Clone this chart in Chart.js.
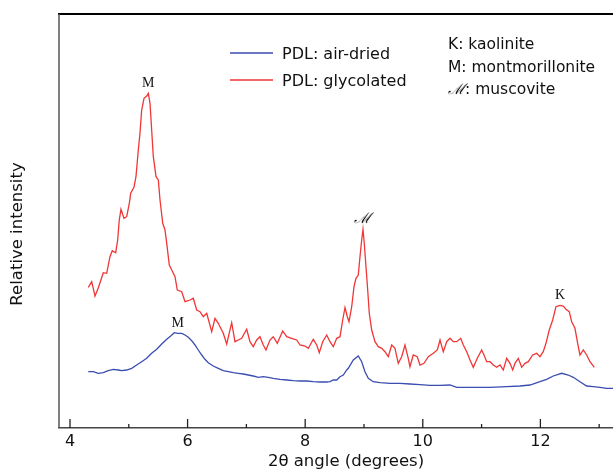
<!DOCTYPE html>
<html>
<head>
<meta charset="utf-8">
<script src="https://cdn.jsdelivr.net/npm/chart.js@4/dist/chart.umd.min.js"></script>
<style>
  html, body { margin: 0; padding: 0; background: #fff; overflow: hidden; }
  #wrap { width: 613px; height: 472px; position: relative; }
</style>
</head>
<body>
<div id="wrap"><canvas id="xrd"></canvas></div>
<script>
// PDL, glycolated
const glycAngle = [4.311, 4.369, 4.425, 4.481, 4.566, 4.624, 4.680, 4.719, 4.777, 4.811, 4.838, 4.867, 4.918, 4.964, 5.009, 5.032, 5.088, 5.122, 5.162, 5.190, 5.219, 5.259, 5.304, 5.332, 5.361, 5.389, 5.417, 5.463, 5.502, 5.531, 5.577, 5.616, 5.645, 5.689, 5.730, 5.786, 5.825, 5.900, 5.956, 6.041, 6.097, 6.155, 6.211, 6.267, 6.325, 6.410, 6.466, 6.522, 6.607, 6.665, 6.750, 6.806, 6.862, 6.920, 7.005, 7.061, 7.117, 7.175, 7.231, 7.287, 7.333, 7.401, 7.457, 7.526, 7.617, 7.685, 7.770, 7.855, 7.912, 7.997, 8.053, 8.138, 8.196, 8.240, 8.298, 8.366, 8.422, 8.478, 8.536, 8.592, 8.638, 8.677, 8.716, 8.745, 8.791, 8.830, 8.864, 8.903, 8.932, 8.961, 8.983, 9.005, 9.034, 9.063, 9.090, 9.131, 9.187, 9.243, 9.301, 9.357, 9.413, 9.471, 9.527, 9.583, 9.641, 9.697, 9.753, 9.782, 9.838, 9.906, 9.952, 10.020, 10.094, 10.179, 10.247, 10.293, 10.349, 10.406, 10.463, 10.519, 10.577, 10.645, 10.689, 10.747, 10.803, 10.859, 10.927, 11.002, 11.041, 11.087, 11.143, 11.199, 11.257, 11.313, 11.369, 11.427, 11.483, 11.529, 11.568, 11.624, 11.682, 11.738, 11.794, 11.869, 11.937, 11.993, 12.049, 12.095, 12.151, 12.209, 12.265, 12.333, 12.390, 12.435, 12.491, 12.532, 12.588, 12.634, 12.673, 12.730, 12.787, 12.844, 12.917];
const glycIntensity = [140.7, 146.3, 132, 140, 155.3, 154.7, 171.3, 177.3, 175.3, 188, 208, 218.7, 209.7, 211.3, 224.7, 234.7, 240.7, 251.3, 278, 294.7, 318, 329.7, 332, 334.7, 324.7, 298, 271.3, 251.3, 248, 228, 204.7, 198, 184.7, 163, 158, 151.3, 138, 136.3, 126.3, 128, 129.7, 118, 116.3, 111.3, 114.7, 96.3, 109.7, 104.7, 94.7, 84, 105.3, 86.3, 88, 89.7, 98.7, 86.3, 81.3, 88, 91.3, 83, 78, 88, 91.3, 84.7, 97, 91.3, 89.7, 88, 83, 82, 79.7, 88.7, 83, 75.3, 86.3, 93, 86.3, 81.3, 89.7, 91.3, 108, 120.5, 111.3, 106.3, 121.3, 141.3, 149.7, 153, 171.3, 188, 198.7, 184.7, 161.3, 138, 114.7, 98, 86.3, 81.3, 79.7, 76.3, 71.3, 83, 79.7, 64.7, 71.3, 83, 69.7, 61.3, 73, 71.3, 63, 64.7, 71.3, 74.7, 78, 88, 76.3, 86.3, 89.7, 86.3, 86.3, 89.7, 83, 76.3, 68, 60.7, 69.7, 78, 73, 66.3, 66.3, 63, 60.7, 63, 58, 69.7, 64.7, 58, 64.7, 69.7, 60.7, 64.7, 66.3, 73, 74.7, 71.3, 76.3, 84.7, 98, 108, 121.3, 122.7, 122, 118.7, 116.3, 106.3, 99.7, 84.7, 73, 78, 73, 66.3, 60.7];

// PDL, air-dried
const airAngle = [4.311, 4.396, 4.481, 4.566, 4.651, 4.736, 4.821, 4.879, 4.964, 5.049, 5.134, 5.219, 5.304, 5.389, 5.474, 5.560, 5.645, 5.713, 5.774, 5.832, 5.900, 5.956, 6.012, 6.070, 6.126, 6.182, 6.240, 6.296, 6.352, 6.437, 6.522, 6.607, 6.692, 6.777, 6.862, 6.947, 7.032, 7.117, 7.202, 7.287, 7.372, 7.457, 7.571, 7.685, 7.798, 7.912, 8.025, 8.138, 8.252, 8.366, 8.422, 8.478, 8.536, 8.592, 8.648, 8.706, 8.733, 8.818, 8.903, 8.961, 9.017, 9.073, 9.158, 9.272, 9.442, 9.612, 9.782, 9.952, 10.122, 10.293, 10.463, 10.577, 10.859, 11.143, 11.427, 11.653, 11.823, 11.993, 12.107, 12.219, 12.362, 12.474, 12.560, 12.673, 12.787, 12.900, 13.014, 13.128, 13.235];
const airIntensity = [56.3, 56.3, 54.7, 55.3, 57.3, 58.7, 58, 57.3, 58, 59.7, 63, 66.3, 69.7, 74.7, 78.7, 84, 88.7, 92, 95.3, 94.7, 94.7, 93, 90.7, 87.3, 83, 78, 73, 68.7, 65.3, 62, 59.7, 57.3, 56.3, 55.3, 54.7, 54, 53, 52, 50.7, 51.3, 50.7, 49.7, 48.7, 48, 47.3, 47, 47, 46.3, 46, 46, 46.3, 48, 48, 51.3, 53, 58, 59.7, 68, 72, 66.3, 56.3, 49.7, 46.3, 45.3, 44.7, 44.7, 44, 43.3, 42.7, 42.7, 43, 40.7, 40.7, 40.7, 41.3, 42, 43, 46.3, 48.7, 52, 54.7, 53, 50.7, 46.3, 42, 41.3, 40.7, 39.7, 39.7];

const seriesNames = ['PDL: air-dried', 'PDL: glycolated'];
const seriesColors = ['#3a4db0', '#f03636'];

const majorTicks = [4, 6, 8, 10, 12];
const minorTicks = [5, 7, 9, 11, 13];

// peak labels: text, angle, intensity, which series
const peaks = [
  { text: 'M', angle: 5.332, value: 334.7, script: false },
  { text: '\u2133', angle: 8.983, value: 198.7, script: true },
  { text: 'K', angle: 12.333, value: 122.7, script: false },
  { text: 'M', angle: 5.832, value: 94.7, script: false }
];
const phaseKey = [
  { sym: 'K', rest: ': kaolinite', script: false },
  { sym: 'M', rest: ': montmorillonite', script: false },
  { sym: '\u2133', rest: ': muscovite', script: true }
];

const SANS = '"DejaVu Sans", Verdana, sans-serif';
const SERIF = '"Liberation Serif", "DejaVu Serif", serif';

const toPoints = (xs, ys) => xs.map((v, i) => ({ x: v, y: ys[i] }));

const decor = {
  id: 'decor',
  afterDraw(chart) {
    const { ctx, chartArea: a, scales: { x, y } } = chart;
    const line = (x1, y1, x2, y2) => {
      ctx.beginPath(); ctx.moveTo(x1, y1); ctx.lineTo(x2, y2); ctx.stroke();
    };
    ctx.save();

    // frame
    ctx.strokeStyle = '#000';
    ctx.lineWidth = 2;
    line(a.left - 1, a.top, a.right, a.top);
    ctx.strokeStyle = '#555';
    ctx.lineWidth = 1.5;
    line(a.left, a.top, a.left, a.bottom);

    // inward tick marks
    ctx.strokeStyle = '#222';
    ctx.lineWidth = 1.3;
    majorTicks.forEach(v => { const px = x.getPixelForValue(v); line(px, a.bottom, px, a.bottom - 9); });
    minorTicks.forEach(v => { const px = x.getPixelForValue(v); line(px, a.bottom, px, a.bottom - 4); });

    // axis titles
    ctx.fillStyle = '#111';
    ctx.textAlign = 'center';
    ctx.textBaseline = 'middle';
    ctx.font = '16.5px ' + SANS;
    ctx.fillText('2\u03b8 angle (degrees)', 346, 462);
    ctx.save();
    ctx.translate(18, 234);
    ctx.rotate(-Math.PI / 2);
    ctx.fillText('Relative intensity', 0, 0);
    ctx.restore();

    // peak labels
    ctx.textBaseline = 'alphabetic';
    peaks.forEach(p => {
      ctx.font = p.script ? 'italic 15px ' + SERIF : '14px ' + SERIF;
      ctx.fillText(p.text, x.getPixelForValue(p.angle), y.getPixelForValue(p.value) - 6);
    });

    // series legend
    ctx.textAlign = 'left';
    ctx.textBaseline = 'middle';
    ctx.font = '16px ' + SANS;
    ctx.lineWidth = 1.3;
    seriesNames.forEach((name, i) => {
      const ly = 53 + i * 27;
      ctx.strokeStyle = seriesColors[i];
      line(230, ly, 273, ly);
      ctx.fillStyle = '#111';
      ctx.fillText(name, 282, ly + 2);
    });

    // phase key
    ctx.font = '15.5px ' + SANS;
    phaseKey.forEach((k, i) => {
      const ky = 45 + i * 22.5;
      ctx.font = k.script ? 'italic 15px ' + SERIF : '15.5px ' + SANS;
      ctx.fillText(k.sym, 448, ky);
      const w = ctx.measureText(k.sym).width;
      ctx.font = '15.5px ' + SANS;
      ctx.fillText(k.rest, 448 + w, ky);
    });

    ctx.restore();
  }
};

new Chart(document.getElementById('xrd'), {
  type: 'line',
  data: {
    datasets: [
      {
        label: seriesNames[0],
        data: toPoints(airAngle, airIntensity),
        borderColor: seriesColors[0],
        borderWidth: 1.3,
        pointRadius: 0,
        tension: 0
      },
      {
        label: seriesNames[1],
        data: toPoints(glycAngle, glycIntensity),
        borderColor: seriesColors[1],
        borderWidth: 1.3,
        pointRadius: 0,
        tension: 0
      }
    ]
  },
  options: {
    responsive: true,
    maintainAspectRatio: false,
    animation: false,
    layout: { padding: { left: 59, top: 14, right: 0, bottom: 0 } },
    plugins: { legend: { display: false }, tooltip: { enabled: false } },
    scales: {
      x: {
        type: 'linear',
        min: 3.813,
        max: 13.235,
        afterBuildTicks: s => { s.ticks = majorTicks.map(v => ({ value: v })); },
        afterFit: s => { s.height = 44; },
        grid: { display: false, drawTicks: false },
        border: { display: true, color: '#444', width: 1.5 },
        ticks: { padding: 4, color: '#111', font: { family: SANS, size: 16 } }
      },
      y: {
        display: false,
        min: 0,
        max: 414
      }
    }
  },
  plugins: [decor]
});
</script>
</body>
</html>
